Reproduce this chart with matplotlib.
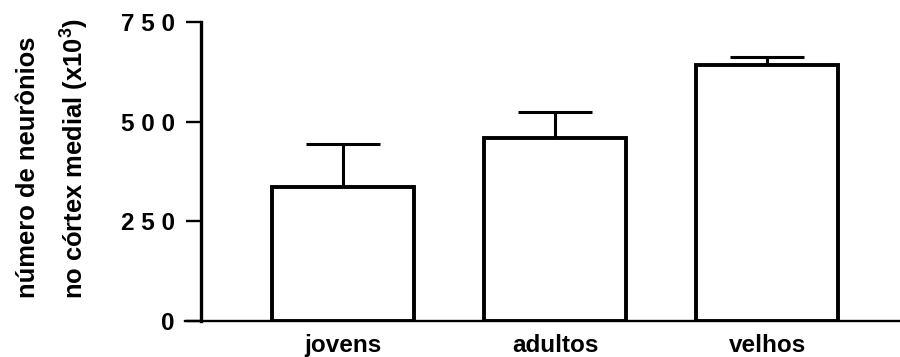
import matplotlib
matplotlib.use("Agg")
import matplotlib.pyplot as plt

# Número de neurônios no córtex medial por grupo etário (x10^3), média + EPM
grupos = ["jovens", "adultos", "velhos"]
medias = [337, 458, 642]
epm = [107, 67, 21]

yticks = [0, 250, 500, 750]
ytick_labels = ["0", "2 5 0", "5 0 0", "7 5 0"]

plt.rcParams["font.family"] = ["Liberation Sans", "DejaVu Sans"]
plt.rcParams["font.weight"] = "bold"
plt.rcParams["mathtext.fontset"] = "custom"
plt.rcParams["mathtext.rm"] = "Liberation Sans:bold"
plt.rcParams["mathtext.it"] = "Liberation Sans:bold"
plt.rcParams["mathtext.bf"] = "Liberation Sans:bold"

fig = plt.figure(figsize=(9, 3.57), dpi=100)
ax = fig.add_axes([0.2056, 0.1008, 0.7944, 0.8375])

x = list(range(len(grupos)))
ax.bar(x, medias, width=0.67, color="white", edgecolor="black",
       linewidth=2.8, zorder=3)
ax.errorbar(x, medias, yerr=[[0] * len(epm), epm], fmt="none",
            ecolor="black", elinewidth=2.2, capsize=26.5, capthick=2.2,
            zorder=2)

ax.set_xlim(-0.745, 2.627)
ax.set_ylim(0, 750)

ax.spines["top"].set_visible(False)
ax.spines["right"].set_visible(False)
ax.spines["left"].set_position(("axes", 0.0224))
ax.spines["left"].set_linewidth(2.4)
ax.spines["bottom"].set_linewidth(1.7)

ax.set_yticks(yticks)
ax.set_yticklabels(ytick_labels, fontsize=17.5, fontweight="bold")
ax.tick_params(axis="y", direction="out", length=10.8, width=1.7, pad=8)

ax.set_xticks(x)
ax.set_xticklabels(grupos, fontsize=17.5, fontweight="bold")
ax.tick_params(axis="x", length=0, pad=9)

fig.text(0.031, 0.53, "número de neurônios", rotation=90,
         ha="center", va="center", fontsize=18.4, fontweight="bold")
fig.text(0.083, 0.555, r"no córtex medial (x10$^{3}$)", rotation=90,
         ha="center", va="center", fontsize=18.4, fontweight="bold")

fig.savefig("out.png", dpi=100, facecolor="white")
